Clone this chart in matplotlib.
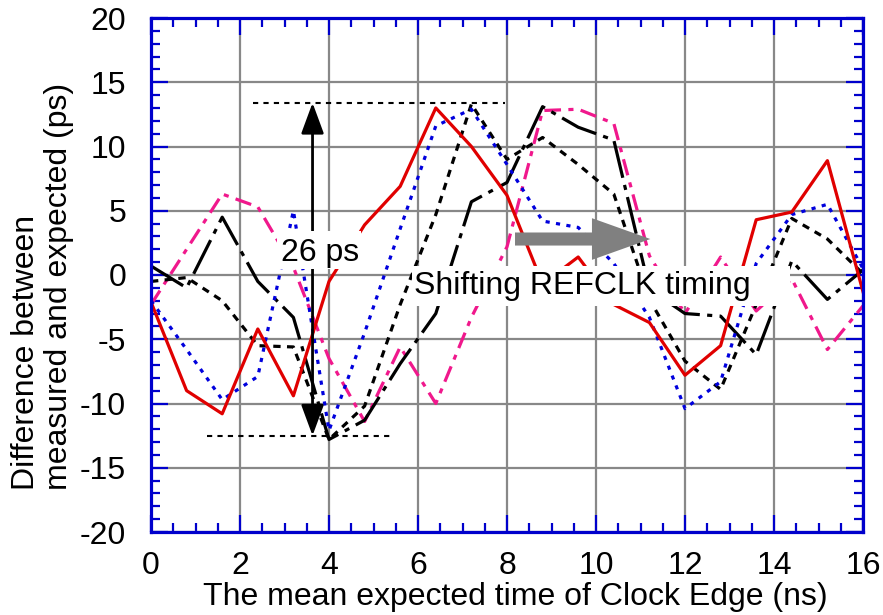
import matplotlib
matplotlib.use('Agg')
import matplotlib.pyplot as plt
from matplotlib.patches import FancyArrowPatch, Rectangle
from matplotlib.ticker import MultipleLocator

plt.rcParams['font.family'] = ['Liberation Sans', 'DejaVu Sans']

# ---- data ----
x_ns = [0, 0.8, 1.6, 2.4, 3.2, 4.0, 4.8, 5.6, 6.4, 7.2, 8.0,
        8.8, 9.6, 10.4, 11.2, 12.0, 12.8, 13.6, 14.4, 15.2, 16.0]
red_solid = [-2.1, -9.0, -10.8, -4.2, -9.4, -0.5, 3.9, 6.9, 13.0, 10.0, 6.2,
             -0.7, 1.4, -2.3, -3.7, -7.8, -5.5, 4.3, 4.9, 8.9, -1.3]
blue_dotted = [-2.0, -5.8, -9.7, -7.9, 5.0, -12.1, -4.5, 3.6, 11.6, 12.9, 8.6,
               4.2, 3.7, 0.9, -3.3, -10.4, -8.3, 0.9, 4.7, 5.5, 0.5]
black_dashed = [-0.5, -0.2, -2.0, -5.5, -5.6, -12.8, -10.2, -2.3, 4.7, 13.3, 9.0,
                10.7, 8.6, 6.3, -1.9, -6.7, -8.9, -2.3, 4.4, 2.8, 0.1]
black_dashdot = [0.7, -1.0, 4.5, -0.5, -3.3, -12.8, -11.3, -6.9, -3.0, 5.7, 7.2,
                 13.1, 11.5, 10.5, -1.1, -3.0, -3.2, -6.2, 1.1, -1.9, 0.4]
pink_dashdot = [-2.3, 2.0, 6.3, 5.3, 0.6, -6.5, -11.4, -5.6, -10.0, -3.3, 2.2,
                12.8, 12.9, 11.8, 1.5, -3.0, 1.4, -2.8, -0.3, -5.8, -2.4]

x_ticks = [0, 2, 4, 6, 8, 10, 12, 14, 16]
y_ticks = [-20, -15, -10, -5, 0, 5, 10, 15, 20]

span_top = 13.4
span_bottom = -12.5

FS = 23
W, H = 883, 615
fig = plt.figure(figsize=(W / 100, H / 100), dpi=100)
ax = fig.add_axes([151 / W, 1 - 532 / H, (863 - 151) / W, (532 - 18) / H])

lw = 2.3
ax.plot(x_ns, pink_dashdot, color='#f0188c', lw=lw,
        linestyle=(0, (5.2, 2.3, 1.6, 2.3)), zorder=2)
ax.plot(x_ns, black_dashdot, color='black', lw=lw,
        linestyle=(0, (11.8, 2.3, 1.6, 2.3)), zorder=2.1)
ax.plot(x_ns, black_dashed, color='black', lw=lw,
        linestyle=(0, (2.3, 2.0)), zorder=2.2)
ax.plot(x_ns, blue_dotted, color='#0000dd', lw=lw,
        linestyle=(0, (1.3, 2.0)), zorder=2.3)
ax.plot(x_ns, red_solid, color='#e00000', lw=lw, linestyle='-', zorder=2.4)

ax.set_xlim(0, 16)
ax.set_ylim(-20, 20)
ax.set_xticks(x_ticks)
ax.set_yticks(y_ticks)
ax.set_xticklabels([str(v) for v in x_ticks])
ax.set_yticklabels([str(v) for v in y_ticks])
ax.xaxis.set_minor_locator(MultipleLocator(0.5))
ax.yaxis.set_minor_locator(MultipleLocator(1))

spine_c = '#0000cc'
for s in ax.spines.values():
    s.set_color(spine_c)
    s.set_linewidth(2.3)
    s.set_zorder(10)
ax.tick_params(which='both', direction='in', top=True, right=True,
               color=spine_c, width=1.6, labelsize=FS, labelcolor='black')
ax.tick_params(which='major', length=12)
ax.tick_params(which='minor', length=6.5)
ax.tick_params(axis='x', which='major', pad=14)
ax.tick_params(axis='y', which='major', pad=18)
ax.grid(True, which='major', color='#888888', lw=1.6, zorder=0)
ax.set_axisbelow(True)

# span annotation lines
ax.plot([2.30, 7.95], [span_top, span_top], color='black', lw=1.5,
        linestyle=(0, (2.5, 2.5)), zorder=4)
ax.plot([1.26, 5.47], [span_bottom, span_bottom], color='black', lw=1.5,
        linestyle=(0, (2.5, 2.5)), zorder=4)
arr = FancyArrowPatch((3.63, span_bottom), (3.63, span_top),
                      arrowstyle='<|-|>,head_length=19,head_width=7',
                      mutation_scale=1, color='black', lw=2.0,
                      shrinkA=0, shrinkB=0, zorder=4)
ax.add_patch(arr)

# 26 ps label box
ax.add_patch(Rectangle((2.84, 0.47), 4.73 - 2.84, 3.42 - 0.47,
                       facecolor='white', edgecolor='none', zorder=5))
ax.text(2.93, 1.09, '26 ps', fontsize=FS, ha='left', va='baseline', zorder=6)

# grey shift arrow
garr = FancyArrowPatch((8.18, 2.8), (11.22, 2.8),
                       arrowstyle='simple,head_length=42,head_width=30,tail_width=9.4',
                       mutation_scale=1, color='#808080', lw=0,
                       shrinkA=0, shrinkB=0, zorder=4)
ax.add_patch(garr)

# Shifting label box
ax.add_patch(Rectangle((5.86, -2.41), 14.37 - 5.86, 0.7 + 2.41,
                       facecolor='white', edgecolor='none', zorder=5))
ax.text(5.92, -1.48, 'Shifting REFCLK timing', fontsize=FS, ha='left',
        va='baseline', zorder=6)

fig.text(515 / W, 1 - 605 / H, 'The mean expected time of Clock Edge (ns)',
         fontsize=FS, ha='center', va='baseline')
fig.text(42.5 / W, 1 - 490 / H, 'Difference between\nmeasured and expected (ps)',
         fontsize=FS, rotation=90, ha='center', va='bottom',
         multialignment='left', linespacing=1.15)

fig.savefig('out.png', dpi=100)
